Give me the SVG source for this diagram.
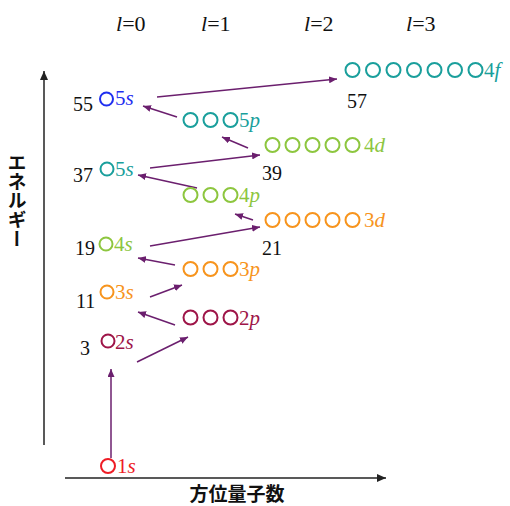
<svg xmlns="http://www.w3.org/2000/svg" width="510" height="506" viewBox="0 0 510 506">
<defs>
<marker id="ah" markerUnits="userSpaceOnUse" markerWidth="9" markerHeight="7" refX="8" refY="3.5" orient="auto"><path d="M0,0 L8,3.5 L0,7 z" fill="#6b1f6e"/></marker>
<marker id="ax" markerUnits="userSpaceOnUse" markerWidth="10" markerHeight="8" refX="9" refY="4" orient="auto"><path d="M0,0 L9,4 L0,8 z" fill="#222"/></marker>
</defs>
<style>
.num{font-family:"Liberation Serif",serif;font-size:20px;fill:#111}
.lab{font-family:"Liberation Serif",serif;font-size:21px}
.lab tspan.i{font-style:italic}
.hd{font-family:"Liberation Serif",serif;font-size:22px;fill:#111}
.jp{font-family:"Noto Sans CJK JP",sans-serif;font-weight:bold;fill:#111}
circle{fill:none;stroke-width:2}
.c1{stroke:#ee1c25;fill:none}.t1{fill:#ee1c25}
.c2{stroke:#9e1548;fill:none}.t2{fill:#9e1548}
.c3{stroke:#f7941d;fill:none}.t3{fill:#f7941d}
.c4{stroke:#8dc63f;fill:none}.t4{fill:#8dc63f}
.c5{stroke:#1a9f9c;fill:none}.t5{fill:#1a9f9c}
.cb{stroke:#1f2ff0;fill:none}.tb{fill:#1f2ff0}
.arr{stroke:#6b1f6e;stroke-width:1.5;fill:none;marker-end:url(#ah)}
.axis{stroke:#222;stroke-width:1.5;fill:none;marker-end:url(#ax)}
</style>
<g id="axes">
<line class="axis" x1="44" y1="445" x2="44" y2="71"/>
<line class="axis" x1="65" y1="478" x2="386" y2="478"/>
<text class="jp" x="17" y="153" font-size="19" writing-mode="vertical-rl" style="writing-mode:vertical-rl">エネルギー</text>
<text class="jp" x="237" y="501" font-size="19" text-anchor="middle">方位量子数</text>
</g>
<g id="headers">
<text class="hd" x="116" y="31"><tspan font-style="italic">l</tspan>=0</text>
<text class="hd" x="201" y="31"><tspan font-style="italic">l</tspan>=1</text>
<text class="hd" x="304" y="31"><tspan font-style="italic">l</tspan>=2</text>
<text class="hd" x="406" y="31"><tspan font-style="italic">l</tspan>=3</text>
</g>
<g id="connectors">
<line class="arr" x1="111" y1="458" x2="111" y2="369"/>
<line class="arr" x1="137" y1="362" x2="188" y2="337"/>
<line class="arr" x1="175" y1="325" x2="138" y2="312"/>
<line class="arr" x1="150" y1="297" x2="182" y2="285"/>
<line class="arr" x1="175" y1="265" x2="138" y2="258"/>
<line class="arr" x1="150" y1="246" x2="260" y2="227"/>
<line class="arr" x1="253" y1="220" x2="235" y2="214"/>
<line class="arr" x1="197" y1="188" x2="138" y2="175"/>
<line class="arr" x1="150" y1="168" x2="260" y2="155"/>
<line class="arr" x1="248" y1="148" x2="222" y2="137"/>
<line class="arr" x1="177" y1="117" x2="143" y2="106"/>
<line class="arr" x1="157" y1="97" x2="337" y2="79"/>
</g>
<g id="o1s">
<circle class="c1" cx="108" cy="466" r="7"/>
<text class="lab t1" x="117" y="473">1<tspan class="i">s</tspan></text>
</g>
<g id="o2s">
<circle class="c2" cx="108" cy="341" r="6.5"/>
<text class="lab t2" x="115" y="349">2<tspan class="i">s</tspan></text>
<text class="num" x="80" y="355">3</text>
</g>
<g id="o2p">
<circle class="c2" cx="190.5" cy="317.5" r="7"/>
<circle class="c2" cx="210.5" cy="317.5" r="7"/>
<circle class="c2" cx="230.5" cy="317.5" r="7"/>
<text class="lab t2" x="239" y="325">2<tspan class="i">p</tspan></text>
</g>
<g id="o3s">
<circle class="c3" cx="107" cy="292" r="6.5"/>
<text class="lab t3" x="115" y="299">3<tspan class="i">s</tspan></text>
<text class="num" x="76" y="308">11</text>
</g>
<g id="o3p">
<circle class="c3" cx="190.5" cy="269" r="7"/>
<circle class="c3" cx="210.5" cy="269" r="7"/>
<circle class="c3" cx="230.5" cy="269" r="7"/>
<text class="lab t3" x="239" y="276">3<tspan class="i">p</tspan></text>
</g>
<g id="o4s">
<circle class="c4" cx="106" cy="244" r="6.5"/>
<text class="lab t4" x="114" y="251">4<tspan class="i">s</tspan></text>
<text class="num" x="75" y="255">19</text>
</g>
<g id="o3d">
<circle class="c3" cx="272.5" cy="220" r="7"/>
<circle class="c3" cx="292.5" cy="220" r="7"/>
<circle class="c3" cx="312.5" cy="220" r="7"/>
<circle class="c3" cx="332.5" cy="220" r="7"/>
<circle class="c3" cx="352.5" cy="220" r="7"/>
<text class="lab t3" x="364" y="227">3<tspan class="i">d</tspan></text>
<text class="num" x="262" y="255">21</text>
</g>
<g id="o4p">
<circle class="c4" cx="190.5" cy="195" r="7"/>
<circle class="c4" cx="210.5" cy="195" r="7"/>
<circle class="c4" cx="230.5" cy="195" r="7"/>
<text class="lab t4" x="239" y="202">4<tspan class="i">p</tspan></text>
</g>
<g id="o5s37">
<circle class="c5" cx="107" cy="169" r="6.5"/>
<text class="lab t5" x="115" y="176">5<tspan class="i">s</tspan></text>
<text class="num" x="73" y="182">37</text>
</g>
<g id="o4d">
<circle class="c4" cx="272.5" cy="145" r="7"/>
<circle class="c4" cx="292.5" cy="145" r="7"/>
<circle class="c4" cx="312.5" cy="145" r="7"/>
<circle class="c4" cx="332.5" cy="145" r="7"/>
<circle class="c4" cx="352.5" cy="145" r="7"/>
<text class="lab t4" x="364" y="152">4<tspan class="i">d</tspan></text>
<text class="num" x="262" y="180">39</text>
</g>
<g id="o5p">
<circle class="c5" cx="190.5" cy="120" r="7"/>
<circle class="c5" cx="210.5" cy="120" r="7"/>
<circle class="c5" cx="230.5" cy="120" r="7"/>
<text class="lab t5" x="239" y="127">5<tspan class="i">p</tspan></text>
</g>
<g id="o5s55">
<circle class="cb" cx="106.5" cy="99" r="6.5"/>
<text class="lab tb" x="115" y="105">5<tspan class="i">s</tspan></text>
<text class="num" x="73" y="111">55</text>
</g>
<g id="o4f">
<circle class="c5" cx="352.5" cy="70" r="7"/>
<circle class="c5" cx="373" cy="70" r="7"/>
<circle class="c5" cx="393.5" cy="70" r="7"/>
<circle class="c5" cx="414" cy="70" r="7"/>
<circle class="c5" cx="434.5" cy="70" r="7"/>
<circle class="c5" cx="455" cy="70" r="7"/>
<circle class="c5" cx="475.5" cy="70" r="7"/>
<text class="lab t5" x="484" y="77">4<tspan class="i">f</tspan></text>
<text class="num" x="347" y="108">57</text>
</g>
</svg>
